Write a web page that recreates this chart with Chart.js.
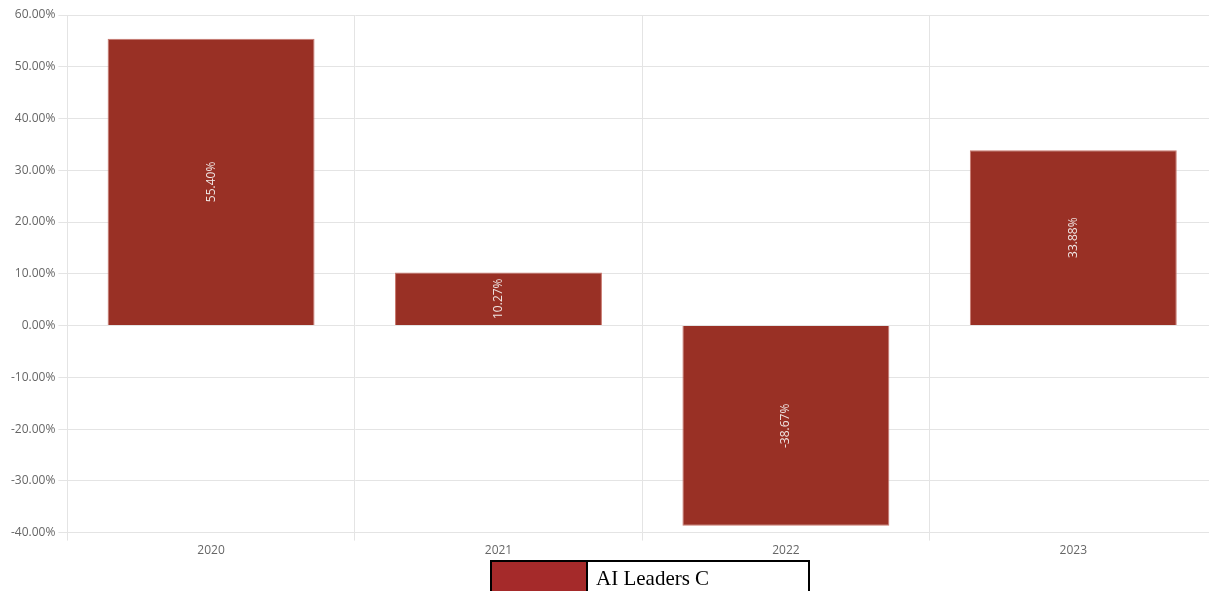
<!DOCTYPE html>
<html><head><meta charset="utf-8">
<script src="https://cdn.jsdelivr.net/npm/chart.js@4"></script>
<style>
html,body{margin:0;padding:0;background:#fff;overflow:hidden;width:1209px;height:591px;}
#wrap{position:relative;width:1217px;height:561px;}
#legend{position:absolute;left:490px;top:560px;border-collapse:collapse;}
#legend td{border:2px solid #000;padding:0;height:34px;font-family:"Liberation Serif","Times New Roman",serif;font-size:21px;vertical-align:top;}
#legend .sw{width:94px;background:#a52a2a;}
#legend .tx{width:212px;padding-left:8px;line-height:32px;}
</style></head>
<body>
<div id="wrap"><canvas id="c"></canvas></div>
<table id="legend"><tr><td class="sw"></td><td class="tx">AI Leaders C</td></tr></table>
<script>
const categories = ["2020", "2021", "2022", "2023"];
const seriesName = "AI Leaders C";
const values = [55.40, 10.27, -38.67, 33.88];

const labelPlugin = {
  id: 'barLabels',
  afterDatasetsDraw(chart) {
    const ctx = chart.ctx;
    const meta = chart.getDatasetMeta(0);
    ctx.save();
    ctx.fillStyle = '#f0e6e4';
    ctx.font = '12px "Open Sans"';
    ctx.textAlign = 'center';
    ctx.textBaseline = 'middle';
    meta.data.forEach((bar, i) => {
      const y = (bar.y + bar.base) / 2;
      ctx.save();
      ctx.translate(bar.x, y);
      ctx.rotate(-Math.PI / 2);
      ctx.fillText(values[i].toFixed(2) + '%', 0, 0);
      ctx.restore();
    });
    ctx.restore();
  }
};

new Chart(document.getElementById('c'), {
  type: 'bar',
  data: {
    labels: categories,
    datasets: [{
      label: seriesName,
      data: values,
      backgroundColor: '#993025',
      borderColor: '#c8776d',
      borderWidth: 1
    }]
  },
  options: {
    responsive: true,
    maintainAspectRatio: false,
    animation: false,
    layout: { padding: { top: 15, right: 0, left: 8, bottom: 0 } },
    plugins: { legend: { display: false }, tooltip: { enabled: false } },
    scales: {
      x: {
        grid: { color: '#e4e4e4', tickLength: 8 },
        border: { color: '#e4e4e4' },
        ticks: { color: '#666', font: { family: 'Open Sans', size: 12 } }
      },
      y: {
        min: -40, max: 60,
        grid: { color: '#e4e4e4', tickLength: 9 },
        border: { color: '#e4e4e4' },
        ticks: {
          stepSize: 10,
          color: '#666',
          font: { family: 'Open Sans', size: 12 },
          callback: v => v.toFixed(2) + '%'
        }
      }
    }
  },
  plugins: [labelPlugin]
});
</script>
</body></html>
